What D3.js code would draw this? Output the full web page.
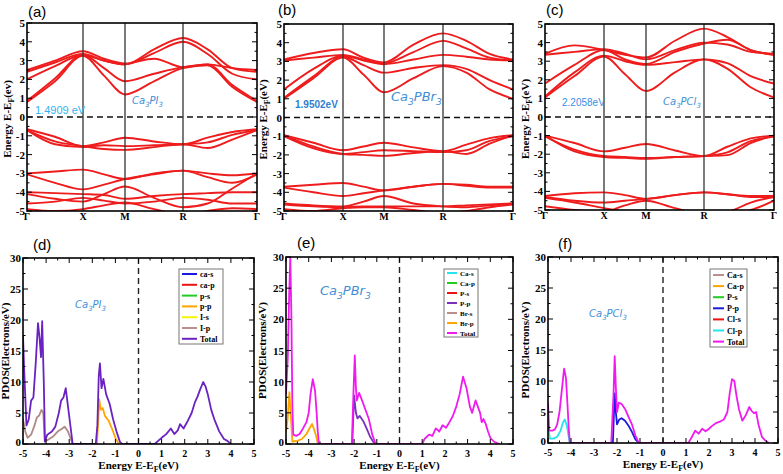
<!DOCTYPE html>
<html>
<head>
<meta charset="utf-8">
<script src="https://cdn.jsdelivr.net/npm/d3@7"></script>
<style>
  body { margin: 0; background: #fff; }
  svg text { font-family: "Liberation Serif", "Times New Roman", serif; }
</style>
</head>
<body>
<svg id="chart" width="783" height="474"></svg>
<script>
// ---- band structure data: energies at k = Γ, ½ΓX, X, ½XM, M, ½MR, R, ⅓RΓ, ⅔RΓ, Γ
var kGrid = [0, 0.5, 1, 1.5, 2, 2.5, 3, 3.333, 3.667, 4];
var kLabels = ["Γ", "X", "M", "R", "Γ"];
var bandTicks = [5, 4, 3, 2, 1, 0, -1, -2, -3, -4, -5];

var bandsPI3 = [
  [0.8, 1.9, 3.25, 2.2, 1.2, 1.9, 2.6, 2.75, 1.6, 0.8],
  [0.85, 2.05, 3.3, 2.6, 1.9, 2.3, 2.65, 2.8, 1.7, 0.85],
  [2.0, 2.7, 3.3, 3.0, 2.8, 3.4, 4.0, 3.35, 2.3, 2.0],
  [2.4, 2.9, 3.35, 3.0, 2.8, 3.6, 4.2, 3.6, 2.6, 2.4],
  [2.5, 3.0, 3.5, 3.1, 2.85, 3.1, 2.65, 2.8, 2.6, 2.5],
  [-0.65, -1.05, -1.55, -1.35, -1.1, -1.3, -1.45, -1.1, -0.8, -0.65],
  [-0.7, -1.3, -1.55, -1.7, -1.75, -1.6, -1.45, -1.65, -1.2, -0.7],
  [-0.7, -1.45, -1.6, -1.5, -1.55, -1.5, -1.45, -1.35, -0.95, -0.7],
  [-3.0, -2.9, -2.8, -3.05, -3.3, -3.0, -2.85, -3.0, -3.1, -3.0],
  [-3.05, -3.5, -3.85, -3.6, -3.3, -3.05, -2.85, -3.2, -3.5, -3.05],
  [-4.0, -4.05, -4.1, -4.15, -4.35, -4.2, -4.1, -4.05, -4.0, -4.0],
  [-4.1, -4.35, -4.5, -4.1, -3.7, -4.3, -4.8, -4.6, -3.8, -3.0],
  [-4.6, -4.5, -4.3, -4.45, -4.6, -4.5, -4.3, -4.4, -4.6, -4.6],
  [-4.9, -5.0, -4.9, -4.7, -4.55, -4.9, -5.2, -5.0, -4.85, -4.9]
];

var bandsPBr3 = [
  [1.0, 2.1, 3.2, 2.3, 1.35, 2.1, 2.75, 2.4, 1.5, 1.0],
  [1.05, 2.2, 3.25, 2.8, 2.4, 2.65, 2.8, 2.6, 2.0, 1.5],
  [1.5, 2.6, 3.3, 3.05, 2.85, 3.1, 3.35, 3.25, 3.1, 3.05],
  [3.05, 3.2, 3.35, 3.1, 2.9, 3.5, 4.1, 3.7, 3.2, 3.05],
  [3.1, 3.45, 3.65, 3.2, 2.95, 3.9, 4.5, 4.1, 3.4, 3.1],
  [-0.95, -1.35, -1.75, -1.55, -1.35, -1.6, -1.8, -1.45, -1.1, -0.95],
  [-0.95, -1.55, -1.95, -2.0, -2.05, -1.9, -1.8, -1.95, -1.4, -0.95],
  [-1.0, -1.65, -1.95, -1.85, -1.75, -1.8, -1.85, -1.75, -1.25, -1.0],
  [-3.7, -3.6, -3.5, -3.7, -3.9, -3.7, -3.55, -3.6, -3.7, -3.7],
  [-3.75, -4.0, -4.2, -4.05, -3.9, -3.7, -3.55, -3.65, -3.75, -3.75],
  [-4.6, -4.7, -4.75, -4.5, -4.2, -4.6, -4.75, -4.8, -4.7, -4.6],
  [-4.65, -4.75, -4.8, -4.75, -4.75, -4.75, -4.75, -4.7, -4.65, -4.6],
  [-4.9, -5.0, -4.85, -4.8, -4.8, -4.95, -5.1, -5.0, -4.8, -4.65]
];

var bandsPCl3 = [
  [1.05, 2.2, 3.25, 2.3, 1.4, 2.4, 3.1, 2.6, 1.6, 1.05],
  [1.1, 2.4, 3.3, 3.0, 2.8, 2.95, 3.1, 2.9, 2.2, 1.8],
  [1.8, 2.8, 3.6, 3.1, 2.85, 3.5, 3.95, 4.15, 3.6, 3.35],
  [3.35, 3.5, 3.65, 3.4, 3.1, 3.6, 4.0, 3.9, 3.5, 3.4],
  [3.4, 3.85, 3.6, 3.35, 3.2, 4.1, 4.75, 4.3, 3.6, 3.35],
  [-1.0, -1.4, -1.85, -1.65, -1.45, -1.8, -2.1, -1.6, -1.15, -1.0],
  [-1.0, -1.85, -2.15, -2.2, -2.25, -2.15, -2.1, -2.05, -1.4, -1.0],
  [-1.05, -1.75, -2.1, -2.15, -2.2, -2.15, -2.1, -1.9, -1.3, -1.05],
  [-4.25, -4.1, -4.05, -4.2, -4.4, -4.2, -4.05, -4.15, -4.25, -4.25],
  [-4.3, -4.5, -4.6, -4.5, -4.4, -4.2, -4.05, -4.15, -4.3, -4.3],
  [-4.35, -4.6, -4.9, -5.1, -5.2, -5.2, -5.2, -5.1, -4.6, -4.3],
  [-4.8, -5.0, -5.1, -4.75, -4.5, -4.9, -5.2, -5.2, -5.0, -4.5]
];

// ---- PDOS data: [energy, states]
var pdosTicksX = [-5, -4, -3, -2, -1, 0, 1, 2, 3, 4, 5];
var pdosTicksY = [0, 5, 10, 15, 20, 25, 30];

var pi3Total = [[-5,17.5],[-4.95,12],[-4.85,3],[-4.75,4],[-4.65,7],[-4.55,7.5],[-4.45,13],[-4.35,19.5],[-4.28,17],[-4.22,14],[-4.17,19.8],[-4.1,10],[-4.05,0.4],[-3.95,1.5],[-3.75,2],[-3.6,2.8],[-3.45,5],[-3.35,7],[-3.25,7.5],[-3.15,9],[-3.05,6],[-2.95,3],[-2.85,0],[-1.85,0],[-1.78,3],[-1.72,11],[-1.67,13],[-1.6,9],[-1.52,10.5],[-1.4,8],[-1.25,6.5],[-1.1,4],[-0.95,2],[-0.8,0.3],[-0.7,0],
  [0.7,0],[0.85,0.5],[1.0,1],[1.2,1.6],[1.4,2.5],[1.55,1.6],[1.7,2.2],[1.8,3.2],[1.95,2.5],[2.1,3.5],[2.3,5],[2.45,6.8],[2.55,7.6],[2.65,8.6],[2.8,10],[2.9,9.3],[3.0,8],[3.15,5.5],[3.3,3.8],[3.5,2],[3.7,0.8],[3.85,0.5],[4.0,0]];
var pi3Ip = [[-5,4],[-4.9,2],[-4.8,1],[-4.65,1.5],[-4.5,3],[-4.4,4.3],[-4.3,4.6],[-4.2,5.5],[-4.12,5],[-4.06,0.4],[-3.95,0.6],[-3.7,1.2],[-3.5,2],[-3.3,2.5],[-3.2,2.8],[-3.05,2],[-2.95,1],[-2.85,0]];
var pi3Pp = [[-1.8,0],[-1.74,4],[-1.7,7.2],[-1.63,5.5],[-1.55,5.8],[-1.45,4.5],[-1.3,3.8],[-1.15,2.5],[-1.0,1],[-0.9,0.3],[-0.85,0]];

var pbr3Total = [[-5,8],[-4.92,14],[-4.86,24],[-4.81,30],[-4.76,20],[-4.72,6],[-4.68,1.5],[-4.55,1.3],[-4.4,1.6],[-4.25,2.5],[-4.1,3.5],[-4.0,5],[-3.92,8],[-3.82,10.4],[-3.72,8.5],[-3.65,5],[-3.6,2],[-3.55,0],
  [-2.1,0],[-2.03,8],[-1.97,14.2],[-1.92,9],[-1.88,7],[-1.78,8.2],[-1.65,7],[-1.5,5.5],[-1.35,4],[-1.2,1.5],[-1.05,0],
  [1.0,0],[1.1,0.8],[1.3,1.5],[1.45,1.3],[1.6,2.5],[1.75,2],[1.9,3],[2.05,2.6],[2.2,3.5],[2.35,4.5],[2.5,6],[2.65,8],[2.8,10.8],[2.95,9],[3.1,6],[3.2,5],[3.35,7],[3.45,6],[3.55,5],[3.62,3.5],[3.7,4],[3.8,3.2],[3.9,2],[4.0,1],[4.15,0.4],[4.4,0]];
var pbr3Brp = [[-5,2],[-4.93,4],[-4.85,8.3],[-4.78,4],[-4.72,0.4],[-4.5,0.5],[-4.3,0.8],[-4.1,1.6],[-3.95,2.6],[-3.85,3.2],[-3.75,2.2],[-3.65,1],[-3.6,0]];
var pbr3Pp = [[-2.08,0],[-2.03,5],[-2.0,7.8],[-1.92,5],[-1.85,4.1],[-1.75,4.5],[-1.6,3.7],[-1.45,2.5],[-1.3,1.2],[-1.15,0.3],[-1.05,0]];

var pcl3Total = [[-5,6.5],[-4.95,2],[-4.8,2],[-4.7,2.2],[-4.6,3],[-4.5,5],[-4.4,8.5],[-4.3,12],[-4.22,10.5],[-4.15,6],[-4.1,2.5],[-4.05,0],
  [-2.25,0],[-2.15,8],[-2.1,14],[-2.05,9],[-2.0,5],[-1.92,6.5],[-1.8,6.3],[-1.65,5.5],[-1.5,4.2],[-1.35,3],[-1.2,1.2],[-1.05,0],
  [1.1,0],[1.2,0.6],[1.4,2],[1.55,1.5],[1.7,2.3],[1.85,1.9],[2.0,2.3],[2.15,2.8],[2.3,3.2],[2.5,3.5],[2.65,3.8],[2.8,5],[2.9,8],[3.0,10.3],[3.1,10],[3.2,7.5],[3.3,5.5],[3.45,3.6],[3.6,4.5],[3.75,5.8],[3.85,5.2],[3.95,4.8],[4.05,5],[4.15,3],[4.3,1],[4.45,0.4],[4.6,0]];
var pcl3Clp = [[-5,3],[-4.92,0.7],[-4.75,0.7],[-4.6,1],[-4.45,2],[-4.35,3.3],[-4.27,3.8],[-4.18,2.8],[-4.1,1],[-4.05,0]];
var pcl3Pp = [[-2.18,0],[-2.13,5],[-2.1,8],[-2.05,5],[-2.0,3],[-1.9,3.8],[-1.8,4],[-1.65,3.6],[-1.5,2.8],[-1.35,1.8],[-1.2,0.6],[-1.05,0]];

var legendPI3 = ["ca-s", "ca-p", "p-s", "p-p", "I-s", "I-p", "Total"];
var legendPBr3 = ["Ca-s", "Ca-p", "P-s", "P-p", "Br-s", "Br-p", "Total"];
var legendPCl3 = ["Ca-s", "Ca-p", "P-s", "P-p", "Cl-s", "Cl-p", "Total"];

var svg = d3.select("#chart");
var BAND_RED = "#ee1c1c";
var LABEL_BLUE = "#3f8ed8";

function addLetter(txt, x, y) {
  svg.append("text").attr("x", x).attr("y", y)
    .style("font-family", "'Liberation Sans', Arial, sans-serif")
    .style("font-size", "15px").text(txt);
}

function addCompound(x, y, size, parts) {
  // parts: [text, isSub]
  var t = svg.append("text").attr("x", x).attr("y", y)
    .style("font-family", "'DejaVu Sans', sans-serif").style("font-style", "italic")
    .style("font-size", size + "px").style("fill", LABEL_BLUE);
  parts.forEach(function (p) {
    t.append("tspan").attr("dy", p[1] ? size * 0.3 : (p[2] ? -size * 0.3 : 0))
      .style("font-size", p[1] ? (size * 0.7) + "px" : size + "px").text(p[0]);
  });
}

function vTitle(x, cy, parts, size) {
  var t = svg.append("text").attr("transform", "translate(" + x + "," + cy + ") rotate(-90)")
    .attr("text-anchor", "middle").style("font-weight", "bold").style("font-size", size + "px");
  parts.forEach(function (p) {
    t.append("tspan").attr("dy", p[1]).style("font-size", p[2] ? (size * 0.7) + "px" : null).text(p[0]);
  });
}

var clipId = 0;
function drawBands(cfg, bands) {
  var x = d3.scaleLinear().domain([0, 1, 2, 3, 4]).range(cfg.kpos);
  var y = d3.scaleLinear().domain([-5, 5]).range([cfg.bottom, cfg.top]);
  var g = svg.append("g");
  var id = "clip" + (clipId++);
  svg.append("clipPath").attr("id", id).append("rect")
    .attr("x", cfg.kpos[0]).attr("y", cfg.top)
    .attr("width", cfg.kpos[4] - cfg.kpos[0]).attr("height", cfg.bottom - cfg.top);

  // dashed Fermi level
  g.append("line").attr("x1", x(0)).attr("x2", x(4)).attr("y1", y(0)).attr("y2", y(0))
    .attr("stroke", "#111").attr("stroke-width", 1.6).attr("stroke-dasharray", "6,4");

  var line = d3.line().x(function (d, i) { return x(kGrid[i]); }).y(function (d) { return y(d); })
    .curve(d3.curveMonotoneX);
  g.append("g").attr("clip-path", "url(#" + id + ")").selectAll("path").data(bands).enter()
    .append("path").attr("d", line).attr("fill", "none")
    .attr("stroke", BAND_RED).attr("stroke-width", 1.9);

  // high-symmetry lines
  g.selectAll("line.hs").data([1, 2, 3]).enter().append("line")
    .attr("x1", function (d) { return x(d); }).attr("x2", function (d) { return x(d); })
    .attr("y1", cfg.top).attr("y2", cfg.bottom).attr("stroke", "#333").attr("stroke-width", 1.3);

  // y ticks (inner, both sides)
  var minor = d3.range(-5, 5.01, 0.5);
  minor.forEach(function (v) {
    var len = (v % 1 === 0) ? 5 : 2.5;
    g.append("line").attr("x1", x(0)).attr("x2", x(0) + len).attr("y1", y(v)).attr("y2", y(v)).attr("stroke", "#000");
    g.append("line").attr("x1", x(4)).attr("x2", x(4) - len).attr("y1", y(v)).attr("y2", y(v)).attr("stroke", "#000");
  });
  g.selectAll("text.yt").data(bandTicks).enter().append("text")
    .attr("x", x(0) - 2).attr("y", function (d) { return y(d) + 4; }).attr("text-anchor", "end")
    .style("font-weight", "bold").style("font-size", "11px").text(function (d) { return d; });

  g.selectAll("text.kl").data(kLabels).enter().append("text")
    .attr("x", function (d, i) { return x(i); }).attr("y", cfg.bottom + 9)
    .attr("text-anchor", "middle").style("font-weight", "bold").style("font-size", "10px")
    .text(function (d) { return d; });

  g.append("rect").attr("x", x(0)).attr("y", cfg.top).attr("width", x(4) - x(0))
    .attr("height", cfg.bottom - cfg.top).attr("fill", "none").attr("stroke", "#000").attr("stroke-width", 1.6);

  vTitle(cfg.titleX, (cfg.top + cfg.bottom) / 2 + 2,
    [["Energy E-E", 0, false], ["F", 3, true], ["(" + cfg.unit + ")", -3, false]], 11);
}

function drawPdos(cfg, series) {
  var x = d3.scaleLinear().domain([-5, 5]).range([cfg.left, cfg.right]);
  var y = d3.scaleLinear().domain([0, 30]).range([cfg.bottom, cfg.top]);
  var g = svg.append("g");
  var id = "clip" + (clipId++);
  svg.append("clipPath").attr("id", id).append("rect")
    .attr("x", cfg.left).attr("y", cfg.top).attr("width", cfg.right - cfg.left).attr("height", cfg.bottom - cfg.top);

  g.append("line").attr("x1", x(0)).attr("x2", x(0)).attr("y1", cfg.top).attr("y2", cfg.bottom)
    .attr("stroke", "#222").attr("stroke-width", 1.4).attr("stroke-dasharray", "6,4");

  var line = d3.line().x(function (d) { return x(d[0]); }).y(function (d) { return y(d[1]); });
  var pg = g.append("g").attr("clip-path", "url(#" + id + ")");
  series.forEach(function (s) {
    pg.append("path").attr("d", line(s.data)).attr("fill", "none")
      .attr("stroke", s.color).attr("stroke-width", 1.8).attr("stroke-linejoin", "round");
  });

  d3.range(-5, 5.01, 0.5).forEach(function (v) {
    var len = (v % 1 === 0) ? 5 : 2.5;
    g.append("line").attr("x1", x(v)).attr("x2", x(v)).attr("y1", cfg.bottom).attr("y2", cfg.bottom - len).attr("stroke", "#000");
    g.append("line").attr("x1", x(v)).attr("x2", x(v)).attr("y1", cfg.top).attr("y2", cfg.top + len).attr("stroke", "#000");
  });
  d3.range(0, 30.01, 2.5).forEach(function (v) {
    var len = (v % 5 === 0) ? 5 : 2.5;
    g.append("line").attr("x1", cfg.left).attr("x2", cfg.left + len).attr("y1", y(v)).attr("y2", y(v)).attr("stroke", "#000");
    g.append("line").attr("x1", cfg.right).attr("x2", cfg.right - len).attr("y1", y(v)).attr("y2", y(v)).attr("stroke", "#000");
  });
  g.selectAll("text.yt").data(pdosTicksY).enter().append("text")
    .attr("x", cfg.left - 2).attr("y", function (d) { return y(d) + (d === 0 ? 2 : 4); }).attr("text-anchor", "end")
    .style("font-weight", "bold").style("font-size", "11px").text(function (d) { return d; });
  g.selectAll("text.xt").data(pdosTicksX).enter().append("text")
    .attr("x", function (d) { return x(d); }).attr("y", cfg.bottom + 13).attr("text-anchor", "middle")
    .style("font-weight", "bold").style("font-size", "10px").text(function (d) { return d; });

  g.append("rect").attr("x", cfg.left).attr("y", cfg.top).attr("width", cfg.right - cfg.left)
    .attr("height", cfg.bottom - cfg.top).attr("fill", "none").attr("stroke", "#000").attr("stroke-width", 1.6);

  // x title
  var xt = g.append("text").attr("x", (cfg.left + cfg.right) / 2).attr("y", cfg.bottom + 25)
    .attr("text-anchor", "middle").style("font-weight", "bold").style("font-size", "11px");
  xt.append("tspan").text("Energy E-E");
  xt.append("tspan").attr("dy", 3).style("font-size", "8px").text("F");
  xt.append("tspan").attr("dy", -3).text("(eV)");

  vTitle(cfg.titleX, (cfg.top + cfg.bottom) / 2, [["PDOS(Electrons/eV)", 0, false]], 11);

  // legend
  var lg = cfg.legend;
  g.append("rect").attr("x", lg.x).attr("y", lg.y).attr("width", lg.w).attr("height", lg.h)
    .attr("fill", "#fff").attr("stroke", "#777").attr("stroke-width", 1);
  lg.names.forEach(function (n, i) {
    var yy = lg.y + lg.first + i * lg.step;
    g.append("line").attr("x1", lg.x + 3).attr("x2", lg.x + 3 + lg.sample).attr("y1", yy).attr("y2", yy)
      .attr("stroke", lg.colors[i]).attr("stroke-width", 2);
    g.append("text").attr("x", lg.x + 6 + lg.sample).attr("y", yy + 3)
      .style("font-weight", "bold").style("font-size", lg.font + "px").text(n);
  });
}

// ---- top row: band structures
drawBands({ kpos: [27, 83, 125, 183, 257], top: 23, bottom: 211, titleX: 11, unit: "ev" }, bandsPI3);
drawBands({ kpos: [284, 343, 384, 443, 513], top: 24, bottom: 211, titleX: 267, unit: "eV" }, bandsPBr3);
drawBands({ kpos: [545, 604, 646, 704, 774], top: 24, bottom: 210, titleX: 529, unit: "eV" }, bandsPCl3);

addLetter("(a)", 28, 17);
addLetter("(b)", 278, 15);
addLetter("(c)", 546, 15);

svg.append("text").attr("x", 35).attr("y", 114).style("font-family", "'Liberation Sans', Arial, sans-serif")
  .style("font-size", "11px").style("fill", "#2fb4ef").text("1.4909 eV");
svg.append("text").attr("x", 295).attr("y", 108).style("font-family", "'Liberation Sans', Arial, sans-serif")
  .style("font-size", "10px").style("font-weight", "bold").style("fill", "#2f7fd0").text("1.9502eV");
svg.append("text").attr("x", 562).attr("y", 106).style("font-family", "'Liberation Sans', Arial, sans-serif")
  .style("font-size", "10px").style("fill", "#3a8ee6").text("2.2058eV");

addCompound(132, 104, 10, [["Ca"], ["3", true], ["PI", false, true], ["3", true]]);
addCompound(391, 101, 13, [["Ca"], ["3", true], ["PBr", false, true], ["3", true]]);
addCompound(663, 105, 10, [["Ca"], ["3", true], ["PCl", false, true], ["3", true]]);

// ---- bottom row: PDOS
drawPdos({ left: 23, right: 254, top: 258, bottom: 444, titleX: 9,
  legend: { x: 179, y: 269, w: 44, h: 75, first: 5, step: 10.8, sample: 15, font: 8, names: legendPI3,
    colors: ["#1a1adf", "#ee1111", "#22cc22", "#ffa500", "#f5f500", "#bc8f8f", "#6a23c2"] } },
  [{ data: pi3Ip, color: "#b08a84" }, { data: pi3Pp, color: "#ffa500" }, { data: pi3Total, color: "#6a23c2" }]);

drawPdos({ left: 286, right: 513, top: 257, bottom: 444, titleX: 266,
  legend: { x: 444, y: 269, w: 34, h: 68, first: 4, step: 10, sample: 10, font: 7, names: legendPBr3,
    colors: ["#22e5f0", "#22cc22", "#ee1111", "#7b2fbe", "#bc8f8f", "#ffa500", "#f01af0"] } },
  [{ data: pbr3Brp, color: "#ffa500" }, { data: pbr3Pp, color: "#7b2fbe" }, { data: pbr3Total, color: "#f01af0" }]);

drawPdos({ left: 548, right: 778, top: 257, bottom: 443, titleX: 529,
  legend: { x: 710, y: 269, w: 37, h: 78, first: 6, step: 11.1, sample: 11, font: 8, names: legendPCl3,
    colors: ["#bc8f8f", "#ffa500", "#22cc22", "#1a1adf", "#ee1111", "#22e5f0", "#f01af0"] } },
  [{ data: pcl3Clp, color: "#22e5f0" }, { data: pcl3Pp, color: "#1a1adf" }, { data: pcl3Total, color: "#f01af0" }]);

addLetter("(d)", 33, 250);
addLetter("(e)", 297, 248);
addLetter("(f)", 558, 249);

addCompound(75, 308, 10, [["Ca"], ["3", true], ["PI", false, true], ["3", true]]);
addCompound(320, 295, 13, [["Ca"], ["3", true], ["PBr", false, true], ["3", true]]);
addCompound(589, 317, 10, [["Ca"], ["3", true], ["PCl", false, true], ["3", true]]);
</script>
</body>
</html>
